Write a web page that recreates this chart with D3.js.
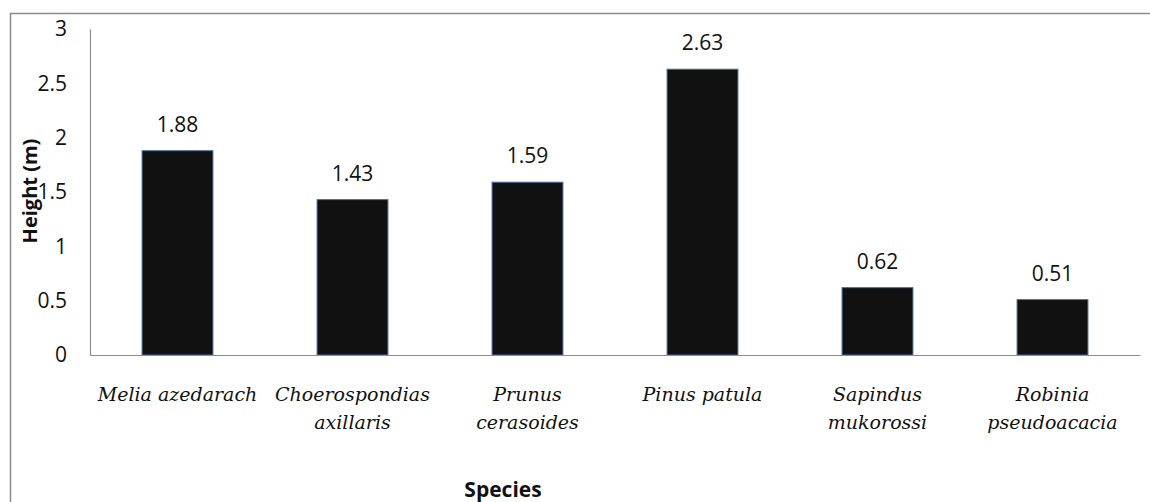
<!DOCTYPE html>
<html>
<head>
<meta charset="utf-8">
<script src="https://cdn.jsdelivr.net/npm/d3@7"></script>
<style>
  html, body { margin: 0; padding: 0; background: #fff; overflow: hidden; }
  svg { display: block; }
</style>
</head>
<body>
<script>
// ---- data ----
const categories = ["Melia azedarach", "Choerospondias axillaris", "Prunus cerasoides", "Pinus patula", "Sapindus mukorossi", "Robinia pseudoacacia"];
const heights = [1.88, 1.43, 1.59, 2.63, 0.62, 0.51];
const valueLabels = ["1.88", "1.43", "1.59", "2.63", "0.62", "0.51"];
const yTicks = [0, 0.5, 1, 1.5, 2, 2.5, 3];
const yTickLabels = ["0", "0.5", "1", "1.5", "2", "2.5", "3"];
const xTitle = "Species";
const yTitle = "Height (m)";

const W = 1150, H = 502;
const plot = { left: 90, right: 1140, top: 29, bottom: 355 };

const svg = d3.select("body").append("svg").attr("width", W).attr("height", H);

// outer frame
svg.append("rect")
  .attr("x", 10.5).attr("y", 13.5)
  .attr("width", W + 20).attr("height", H + 20)
  .attr("fill", "none").attr("stroke", "#8c8c8c").attr("stroke-width", 1.5);

const x = d3.scaleBand().domain(categories).range([plot.left, plot.right]).paddingInner(0.595).paddingOuter(0.2975);
const y = d3.scaleLinear().domain([0, 3]).range([plot.bottom, plot.top]);

// y axis
const yAxis = d3.axisLeft(y).tickValues(yTicks).tickSize(0).tickPadding(23)
  .tickFormat((d, i) => yTickLabels[i]);
const gy = svg.append("g").attr("transform", `translate(${plot.left},0)`).call(yAxis);
gy.select(".domain").attr("stroke", "#8c8c8c").attr("stroke-width", 1.2);
gy.selectAll("text").attr("font-family", "'Open Sans', sans-serif").attr("font-size", 21).attr("fill", "#111");

// bars
svg.append("g").selectAll("rect").data(heights).join("rect")
  .attr("x", (d, i) => x(categories[i]))
  .attr("y", d => y(d))
  .attr("width", x.bandwidth())
  .attr("height", d => y(0) - y(d))
  .attr("fill", "#111111")
  .attr("stroke", "#4a6f9c").attr("stroke-width", 1);

// x axis
const xAxis = d3.axisBottom(x).tickSize(0).tickFormat("");
const gx = svg.append("g").attr("transform", `translate(0,${plot.bottom})`).call(xAxis);
gx.select(".domain").attr("stroke", "#8c8c8c").attr("stroke-width", 1.2);

// value labels
svg.append("g").selectAll("text").data(heights).join("text")
  .attr("x", (d, i) => x(categories[i]) + x.bandwidth() / 2)
  .attr("y", d => y(d) - 19)
  .attr("text-anchor", "middle")
  .attr("font-family", "'Open Sans', sans-serif").attr("font-size", 21).attr("fill", "#111")
  .text((d, i) => valueLabels[i]);

// category labels (word wrapped to band step)
const catG = svg.append("g");
const step = x.step();
categories.forEach((c, i) => {
  const cx = x(c) + x.bandwidth() / 2;
  const t = catG.append("text")
    .attr("x", cx).attr("y", 401)
    .attr("text-anchor", "middle")
    .attr("font-family", "'DejaVu Serif', serif").attr("font-style", "italic")
    .attr("font-size", 19).attr("fill", "#111");
  const words = c.split(" ");
  let line = [];
  let ts = t.append("tspan").attr("x", cx).attr("dy", 0);
  words.forEach(w => {
    line.push(w);
    ts.text(line.join(" "));
    if (ts.node().getComputedTextLength() > step - 2 && line.length > 1) {
      line.pop();
      ts.text(line.join(" "));
      line = [w];
      ts = t.append("tspan").attr("x", cx).attr("dy", 28).text(w);
    }
  });
});

// axis titles
svg.append("text")
  .attr("x", 503).attr("y", 497)
  .attr("text-anchor", "middle")
  .attr("font-family", "'Open Sans', sans-serif").attr("font-weight", "bold")
  .attr("font-size", 21).attr("fill", "#111")
  .text(xTitle);

svg.append("text")
  .attr("transform", "translate(37,191) rotate(-90)")
  .attr("text-anchor", "middle")
  .attr("font-family", "'Open Sans', sans-serif").attr("font-weight", "bold")
  .attr("font-size", 20).attr("fill", "#111")
  .text(yTitle);
</script>
</body>
</html>
